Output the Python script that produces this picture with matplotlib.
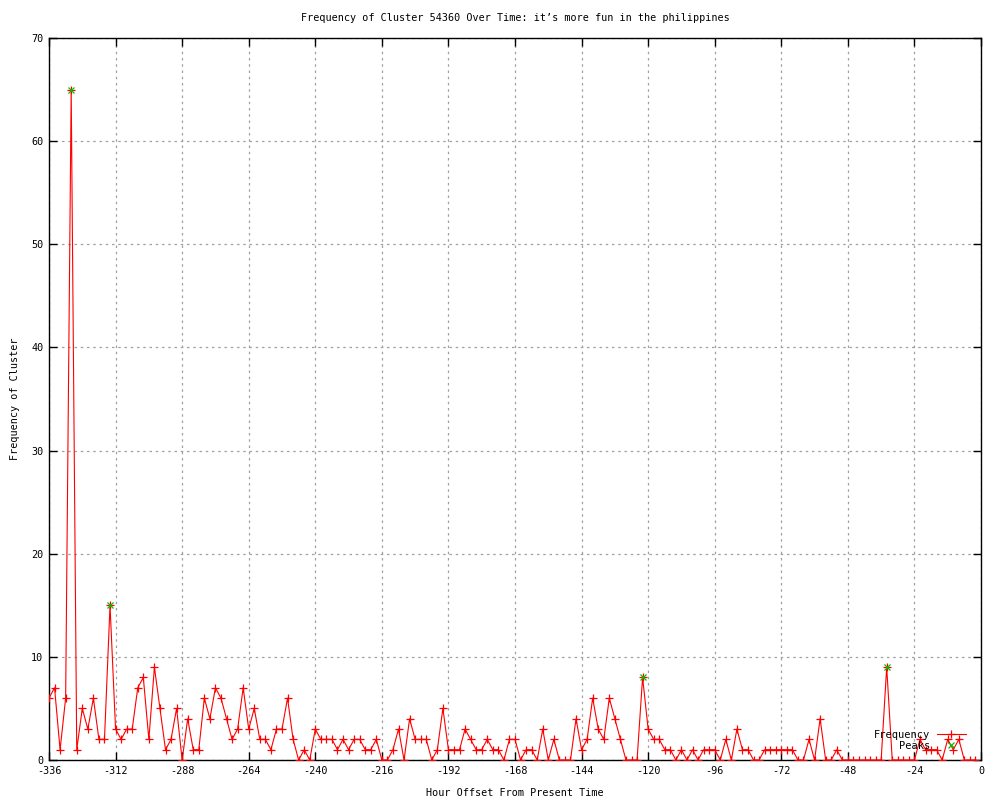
import numpy as np
import matplotlib
matplotlib.use("Agg")
import matplotlib.pyplot as plt

# Data (hour offsets every 2 hours from -336 to -2)
hours = list(range(-336, 0, 2))
freq = [
    6, 7, 1, 6, 65, 1, 5, 3, 6, 2, 2, 15, 3, 2, 3, 3, 7, 8, 2, 9,
    5, 1, 2, 5, 0, 4, 1, 1, 6, 4, 7, 6, 4, 2, 3, 7, 3, 5, 2, 2, 1,
    3, 3, 6, 2, 0, 1, 0, 3, 2, 2, 2, 1, 2, 1, 2, 2, 1, 1, 2, 0,
    0, 1, 3, 0, 4, 2, 2, 2, 0, 1, 5, 1, 1, 1, 3, 2, 1, 1, 2, 1, 1, 0, 2,
    2, 0, 1, 1, 0, 3, 0, 2, 0, 0, 0, 4, 1, 2, 6, 3, 2, 6, 4, 2,
    0, 0, 0, 8, 3, 2, 2, 1, 1, 0, 1, 0, 1, 0, 1, 1, 1, 0, 2, 0, 3,
    1, 1, 0, 0, 1, 1, 1, 1, 1, 1, 0, 0, 2, 0, 4, 0, 0, 1, 0, 0,
    0, 0, 0, 0, 0, 0, 9, 0, 0, 0, 0, 0, 2, 1, 1, 1, 0, 2, 1, 2, 0, 0, 0,
]
peak_hours = [-328, -314, -122, -34]
peak_values = [freq[hours.index(h)] for h in peak_hours]

x_ticks = list(range(-336, 1, 24))
y_ticks = list(range(0, 71, 10))

title = "Frequency of Cluster 54360 Over Time: it\u2019s more fun in the philippines"
xlabel = "Hour Offset From Present Time"
ylabel = "Frequency of Cluster"

plt.rcParams['font.family'] = ['DejaVu Sans Mono', 'DejaVu Sans']
plt.rcParams['font.size'] = 7.3

fig = plt.figure(figsize=(10, 8), dpi=100)
ax = fig.add_axes([0.049, 0.05, 0.932, 0.9025])

ax.plot(hours, freq, color='#ff0000', lw=0.8, marker='+', ms=6, mew=0.9,
        label='Frequency', zorder=3)
ax.plot(peak_hours, peak_values, ls='none', marker='x', ms=5, mew=0.9,
        color='#00c000', label='Peaks', zorder=4)

ax.set_xlim(-336, 0)
ax.set_ylim(0, 70)
ax.set_xticks(x_ticks)
ax.set_yticks(y_ticks)
ax.set_xticklabels([str(t) for t in x_ticks])
ax.set_yticklabels([str(t) for t in y_ticks])

ax.grid(True, color='#a0a0a0', ls=(0, (2, 3)), lw=0.9)
ax.set_axisbelow(True)
ax.tick_params(direction='in', length=6, width=1, top=True, right=True,
               labelsize=7.3, pad=4, colors='black')
for s in ax.spines.values():
    s.set_linewidth(1)
    s.set_color('black')

ax.set_title(title, fontsize=7.3, pad=12)
ax.set_xlabel(xlabel, fontsize=7.3, labelpad=9)
ax.set_ylabel(ylabel, fontsize=7.3, labelpad=8)

leg = ax.legend(loc='lower right', frameon=False, markerfirst=False,
                fontsize=7.5, handlelength=2.8, handletextpad=0.6,
                labelspacing=0.1, borderaxespad=0.6,
                bbox_to_anchor=(0.995, -0.002))

fig.savefig('out.png', dpi=100)
